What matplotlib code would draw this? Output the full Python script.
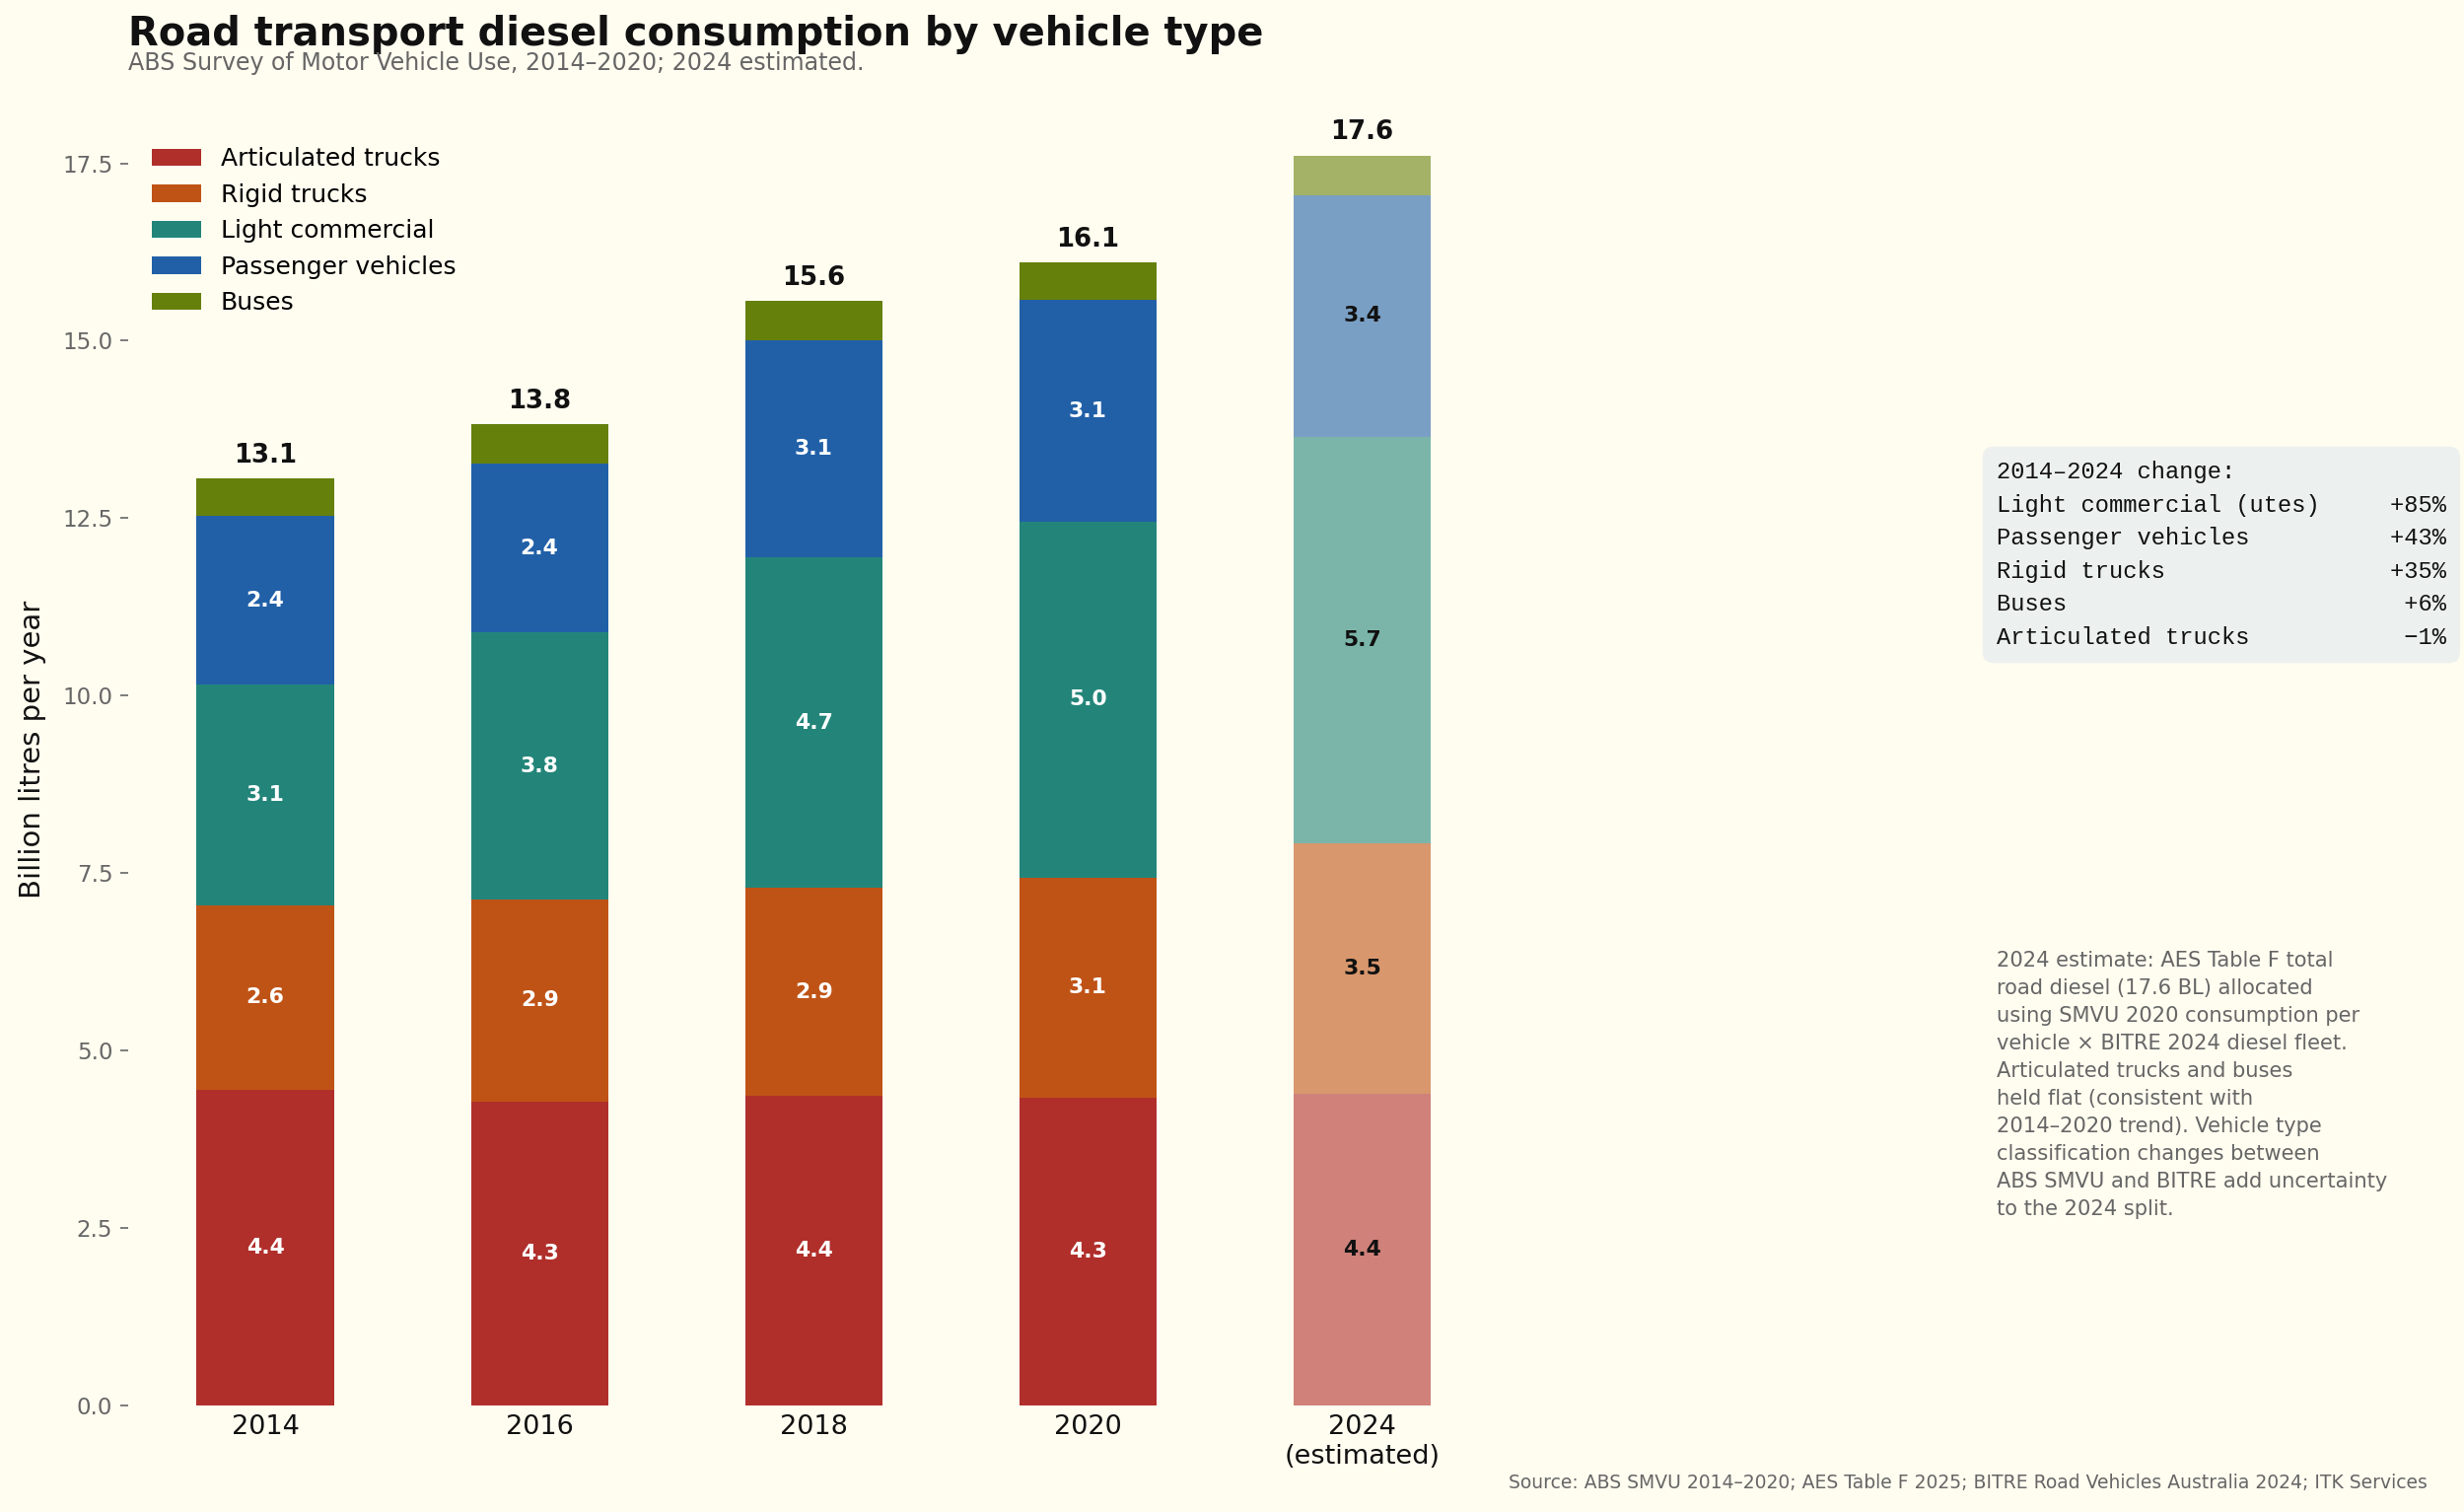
import numpy as np
import matplotlib
matplotlib.use("Agg")
import matplotlib.pyplot as plt

# data (billion litres per year)
years = ["2014", "2016", "2018", "2020", "2024\n(estimated)"]
articulated = [4.44, 4.28, 4.36, 4.33, 4.39]
rigid = [2.61, 2.85, 2.93, 3.11, 3.53]
light_commercial = [3.10, 3.76, 4.66, 5.01, 5.73]
passenger = [2.38, 2.38, 3.06, 3.12, 3.40]
buses = [0.53, 0.55, 0.55, 0.53, 0.56]

series_names = ["Articulated trucks", "Rigid trucks", "Light commercial",
                "Passenger vehicles", "Buses"]
box_names = ["Articulated trucks", "Rigid trucks", "Light commercial (utes)",
             "Passenger vehicles", "Buses"]

BG = "#FFFDF0"
COLORS = ["#B02F2B", "#BF5316", "#23857A", "#2160A7", "#66800C"]
GREY = "#666666"

plt.rcParams["font.family"] = "DejaVu Sans"

fig = plt.figure(figsize=(2499 / 150, 1533 / 150), dpi=150, facecolor=BG)
ax = fig.add_axes([0.052, 0.0705, 0.5565, 0.868])
ax.set_facecolor(BG)

data = [articulated, rigid, light_commercial, passenger, buses]
x = np.arange(len(years))
bottom = np.zeros(len(years))
width = 0.5
for name, vals, col in zip(series_names, data, COLORS):
    vals = np.array(vals)
    # last bar is the estimate: drawn lighter
    alphas = [1.0] * (len(years) - 1) + [0.6]
    for i in range(len(years)):
        ax.bar(x[i], vals[i], width, bottom=bottom[i], color=col, alpha=alphas[i],
               linewidth=0, label=name if i == 0 else None)
        if vals[i] > 1.0:
            ax.text(x[i], bottom[i] + vals[i] / 2, f"{vals[i]:.1f}", ha="center",
                    va="center", fontsize=10.5, fontweight="bold",
                    color="#111111" if i == len(years) - 1 else "white")
    bottom += vals

for i, tot in enumerate(bottom):
    ax.annotate(f"{tot:.1f}", (x[i], tot), xytext=(0, 5), textcoords="offset points",
                ha="center", va="bottom", fontsize=12.5, fontweight="bold",
                color="#111111")

ax.set_xlim(-0.5, 4.5)
ax.set_xticks(x)
ax.set_xticklabels(years, fontsize=13, color="#111111")
ax.tick_params(axis="x", length=0, pad=4.5)
ax.set_yticks(np.arange(0, 17.6, 2.5))
ax.set_yticklabels([f"{v:.1f}" for v in np.arange(0, 17.6, 2.5)], fontsize=11, color=GREY)
ax.tick_params(axis="y", length=4, color=GREY)
for s in ax.spines.values():
    s.set_visible(False)
ax.set_ylabel("Billion litres per year", fontsize=14, color="#111111")
ax.yaxis.set_label_coords(-0.06, 0.5)

ax.legend(loc="upper left", bbox_to_anchor=(0.0045, 0.972), frameon=False, fontsize=12,
          handlelength=2.0, borderaxespad=0.3)

fig.text(0.052, 0.977, "Road transport diesel consumption by vehicle type",
         fontsize=19.2, fontweight="bold", color="#111111", va="center", ha="left")
fig.text(0.052, 0.958, "ABS Survey of Motor Vehicle Use, 2014–2020; 2024 estimated.",
         fontsize=11.4, color=GREY, va="center", ha="left")

# change box, sorted by growth
changes = []
for nm, vals in zip(box_names, data):
    changes.append((nm, (vals[-1] / vals[0] - 1) * 100))
changes.sort(key=lambda t: -t[1])
lines = ["2014–2024 change:"]
for nm, pct in changes:
    p = f"{pct:+.0f}%".replace("-", "−")
    lines.append(f"{nm:<27}{p:>5}")
fig.text(0.8103, 0.6954, "\n".join(lines), family=["Liberation Mono", "DejaVu Sans Mono"],
         fontsize=11.4, color="#111111", va="top", ha="left", linespacing=1.59,
         bbox=dict(boxstyle="round,pad=0.6,rounding_size=0.5", facecolor="#ECF1EF",
                   edgecolor="none"))

note = ("2024 estimate: AES Table F total\n"
        "road diesel (17.6 BL) allocated\n"
        "using SMVU 2020 consumption per\n"
        "vehicle × BITRE 2024 diesel fleet.\n"
        "Articulated trucks and buses\n"
        "held flat (consistent with\n"
        "2014–2020 trend). Vehicle type\n"
        "classification changes between\n"
        "ABS SMVU and BITRE add uncertainty\n"
        "to the 2024 split.")
fig.text(0.8103, 0.371, note, fontsize=10.1, color=GREY, va="top", ha="left",
         linespacing=1.5)

fig.text(0.985, 0.019, "Source: ABS SMVU 2014–2020; AES Table F 2025; BITRE Road Vehicles "
         "Australia 2024; ITK Services", fontsize=9, color=GREY, ha="right", va="center")

fig.savefig("out.png", dpi=150, facecolor=BG)
